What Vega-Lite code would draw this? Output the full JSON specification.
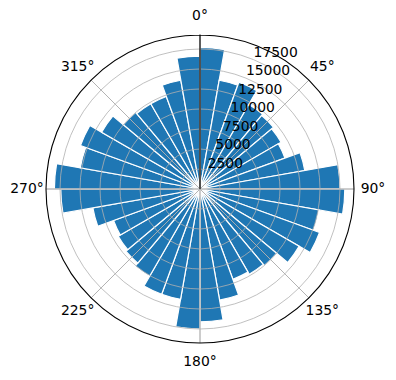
{
  "$schema": "https://vega.github.io/schema/vega-lite/v6.json",
  "width": 392,
  "height": 378,
  "autosize": "none",
  "padding": {"left": 4, "top": 0, "right": 0, "bottom": 2},
  "background": "white",
  "config": {"view": {"stroke": null}, "font": "DejaVu Sans"},
  "datasets": {
    "bars": [
      {"a0": 0, "a1": 10, "count": 17700},
      {"a0": 10, "a1": 20, "count": 13800},
      {"a0": 20, "a1": 30, "count": 14200},
      {"a0": 30, "a1": 40, "count": 12200},
      {"a0": 40, "a1": 50, "count": 12000},
      {"a0": 50, "a1": 60, "count": 11700},
      {"a0": 60, "a1": 70, "count": 11300},
      {"a0": 70, "a1": 80, "count": 13300},
      {"a0": 80, "a1": 90, "count": 17500},
      {"a0": 90, "a1": 100, "count": 18100},
      {"a0": 100, "a1": 110, "count": 15100},
      {"a0": 110, "a1": 120, "count": 15900},
      {"a0": 120, "a1": 130, "count": 14300},
      {"a0": 130, "a1": 140, "count": 12500},
      {"a0": 140, "a1": 150, "count": 12300},
      {"a0": 150, "a1": 160, "count": 12000},
      {"a0": 160, "a1": 170, "count": 14100},
      {"a0": 170, "a1": 180, "count": 16600},
      {"a0": 180, "a1": 190, "count": 17500},
      {"a0": 190, "a1": 200, "count": 14000},
      {"a0": 200, "a1": 210, "count": 14000},
      {"a0": 210, "a1": 220, "count": 12600},
      {"a0": 220, "a1": 230, "count": 12100},
      {"a0": 230, "a1": 240, "count": 11800},
      {"a0": 240, "a1": 250, "count": 11500},
      {"a0": 250, "a1": 260, "count": 13600},
      {"a0": 260, "a1": 270, "count": 17400},
      {"a0": 270, "a1": 280, "count": 18200},
      {"a0": 280, "a1": 290, "count": 15200},
      {"a0": 290, "a1": 300, "count": 15900},
      {"a0": 300, "a1": 310, "count": 14200},
      {"a0": 310, "a1": 320, "count": 12500},
      {"a0": 320, "a1": 330, "count": 12300},
      {"a0": 330, "a1": 340, "count": 12300},
      {"a0": 340, "a1": 350, "count": 13800},
      {"a0": 350, "a1": 360, "count": 16600}
    ],
    "rings": [
      {"r": 2500, "label": "2500"},
      {"r": 5000, "label": "5000"},
      {"r": 7500, "label": "7500"},
      {"r": 10000, "label": "10000"},
      {"r": 12500, "label": "12500"},
      {"r": 15000, "label": "15000"},
      {"r": 17500, "label": "17500"}
    ],
    "spokes": [
      {"deg": 0, "label": "0°"},
      {"deg": 45, "label": "45°"},
      {"deg": 90, "label": "90°"},
      {"deg": 135, "label": "135°"},
      {"deg": 180, "label": "180°"},
      {"deg": 225, "label": "225°"},
      {"deg": 270, "label": "270°"},
      {"deg": 315, "label": "315°"}
    ]
  },
  "layer": [
    {
      "data": {"name": "bars"},
      "mark": {"type": "arc", "color": "#1f77b4", "stroke": "white", "strokeWidth": 1.2},
      "encoding": {
        "theta": {"field": "a0", "type": "quantitative", "stack": null, "scale": {"domain": [0, 360], "range": [0, 6.283185307]}},
        "theta2": {"field": "a1"},
        "radius": {"field": "count", "type": "quantitative", "stack": null, "scale": {"type": "linear", "domain": [0, 19250], "range": [0, 154], "zero": true}}
      }
    },
    {
      "data": {"name": "rings"},
      "mark": {"type": "arc", "filled": false, "stroke": "#b0b0b0", "strokeWidth": 0.8, "theta": 0, "theta2": 6.283185307},
      "encoding": {
        "radius": {"field": "r", "type": "quantitative", "stack": null}
      }
    },
    {
      "data": {"name": "spokes"},
      "mark": {"type": "arc", "filled": false, "stroke": "#b0b0b0", "strokeWidth": 0.8},
      "encoding": {
        "theta": {"field": "deg", "type": "quantitative", "stack": null},
        "theta2": {"field": "deg"},
        "radius": {"datum": 19250, "type": "quantitative", "stack": null}
      }
    },
    {
      "data": {"values": [{"rmax": 19250}]},
      "mark": {"type": "arc", "filled": false, "stroke": "black", "strokeWidth": 1.1, "theta": 0, "theta2": 6.283185307},
      "encoding": {
        "radius": {"field": "rmax", "type": "quantitative", "stack": null}
      }
    },
    {
      "data": {"name": "spokes"},
      "mark": {"type": "text", "radius": 173, "fontSize": 13.9, "align": "center", "baseline": "middle", "color": "black"},
      "encoding": {
        "theta": {"field": "deg", "type": "quantitative", "stack": null},
        "text": {"field": "label"}
      }
    },
    {
      "data": {"name": "rings"},
      "mark": {"type": "text", "fontSize": 13.9, "align": "left", "baseline": "bottom", "color": "black"},
      "encoding": {
        "theta": {"datum": 22.5, "type": "quantitative"},
        "radius": {"field": "r", "type": "quantitative", "stack": null},
        "text": {"field": "label"}
      }
    }
  ]
}
